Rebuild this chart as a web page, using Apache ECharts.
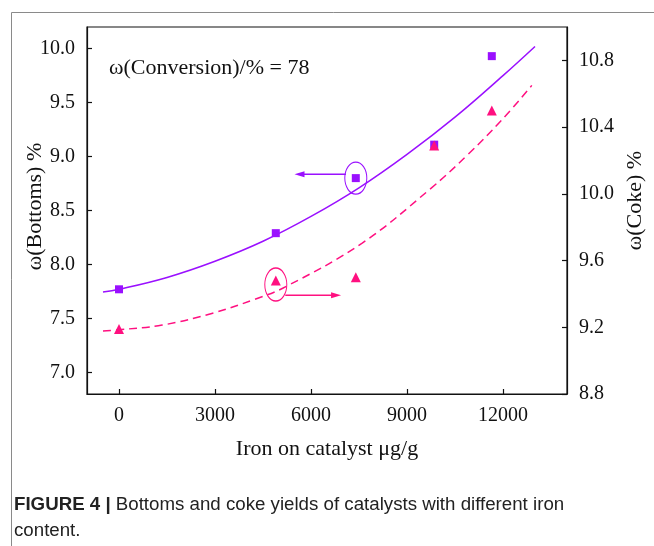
<!DOCTYPE html>
<html>
<head>
<meta charset="utf-8">
<script src="https://cdn.jsdelivr.net/npm/echarts@6/dist/echarts.min.js"></script>
<style>
  html, body { margin: 0; padding: 0; background: #fff; }
  #chart { width: 654px; height: 546px; }
</style>
</head>
<body>
<div id="chart"></div>
<script>
// measured points (iron on catalyst, μg/g)
var ironFe = [0, 4900, 7400, 9850, 11650];
var bottomsPct = [7.77, 8.29, 8.80, 9.11, 9.93];
var cokePct = [9.19, 9.48, 9.50, 10.29, 10.50];

// fitted curves
var bottomsFitX = [-500, 0, 1500, 3000, 4500, 6000, 7500, 9000, 10500, 12000, 13000];
var bottomsFitY = [7.745, 7.77, 7.88, 8.03, 8.215, 8.445, 8.71, 9.02, 9.365, 9.75, 10.02];
var cokeFitX = [-500, 0, 1350, 2900, 4250, 5230, 7600, 9700, 10900, 11950, 12900];
var cokeFitY = [9.178, 9.185, 9.213, 9.283, 9.368, 9.445, 9.705, 10.025, 10.235, 10.44, 10.65];

// axis ticks
var xTicks = [0, 3000, 6000, 9000, 12000];
var bottomsTicks = [7.0, 7.5, 8.0, 8.5, 9.0, 9.5, 10.0];
var cokeTicks = [8.8, 9.2, 9.6, 10.0, 10.4, 10.8];

var PURPLE = "#9a10ff";
var PINK = "#ff1080";
var SERIF = "'Liberation Serif', 'Times New Roman', serif";

function zip(xs, ys) {
    var out = [];
    for (var i = 0; i < xs.length; i++) out.push([xs[i], ys[i]]);
    return out;
}

var chart = echarts.init(document.getElementById("chart"));

function valueAxis(ticks, fmt) {
    return {
        axisLine: { show: true, onZero: false, lineStyle: { color: "#111", width: 1.2 } },
        axisTick: { show: true, inside: true, length: 5, customValues: ticks, lineStyle: { color: "#111", width: 1.2 } },
        axisLabel: {
            customValues: ticks, color: "#111", fontFamily: SERIF, fontSize: 20, margin: 12,
            formatter: fmt
        },
        splitLine: { show: false },
        nameMoveOverlap: false,
        nameTextStyle: { color: "#111", fontFamily: SERIF, fontSize: 22 }
    };
}

var xAxis = valueAxis(xTicks, function (v) { return String(v); });
xAxis.type = "value";
xAxis.min = -1000;
xAxis.max = 14000;
xAxis.name = "Iron on catalyst μg/g";
xAxis.nameLocation = "middle";
xAxis.nameGap = 44;

var yLeft = valueAxis(bottomsTicks, function (v) { return v.toFixed(1); });
yLeft.type = "value";
yLeft.min = 6.8;
yLeft.max = 10.2;
yLeft.position = "left";
yLeft.name = "ω(Bottoms) %";
yLeft.nameLocation = "middle";
yLeft.nameRotate = 90;
yLeft.nameGap = 41;
yLeft.nameTextStyle.padding = [0, 0, 0, 8];

var yRight = valueAxis(cokeTicks, function (v) { return v.toFixed(1); });
yRight.type = "value";
yRight.min = 8.8;
yRight.max = 11.0;
yRight.position = "right";
yRight.name = "ω(Coke) %";
yRight.nameLocation = "middle";
yRight.nameRotate = 90;
yRight.nameGap = 57;
yRight.nameTextStyle.padding = [0, 0, 0, 20];

// annotation helper: arrow shaft towards an axis
function arrowLine(color, yIdx, from, to) {
    return {
        type: "line", yAxisIndex: yIdx, data: [from, to], showSymbol: false, silent: true,
        lineStyle: { color: color, width: 1.3 }
    };
}

var option = {
    animation: false,
    backgroundColor: "#fff",
    grid: { left: 87, right: 86, top: 27, bottom: 152, show: true, borderColor: "#111", borderWidth: 1.2, backgroundColor: "transparent" },
    xAxis: xAxis,
    yAxis: [yLeft, yRight],
    graphic: [
        // outer figure frame
        { type: "rect", left: 9, top: 10, shape: { width: 700, height: 600 }, style: { fill: "none", stroke: "#8a8a8a", lineWidth: 1 }, silent: true },
        { type: "text", left: 109, top: 57, style: { text: "ω(Conversion)/% = 78", fill: "#111", font: "22px " + SERIF } },
        {
            type: "text", left: 14, top: 492,
            style: {
                text: "{b|FIGURE 4 |} Bottoms and coke yields of catalysts with different iron\ncontent.",
                fill: "#222", font: "18.7px 'Liberation Sans', Arial, sans-serif", lineHeight: 26,
                rich: { b: { fontWeight: "bold", fontSize: 18.7, fontFamily: "'Liberation Sans', Arial, sans-serif", fill: "#222" } }
            }
        }
    ],
    series: [
        {
            name: "bottoms fit", type: "line", yAxisIndex: 0, data: zip(bottomsFitX, bottomsFitY),
            smooth: 0.4, showSymbol: false, silent: true,
            lineStyle: { color: PURPLE, width: 1.5 }
        },
        {
            name: "coke fit", type: "line", yAxisIndex: 1, data: zip(cokeFitX, cokeFitY),
            smooth: 0.4, showSymbol: false, silent: true,
            lineStyle: { color: PINK, width: 1.5, type: [8, 5] }
        },
        {
            name: "Bottoms", type: "scatter", yAxisIndex: 0, data: zip(ironFe, bottomsPct),
            symbol: "rect", symbolSize: 8, itemStyle: { color: PURPLE, opacity: 1 }
        },
        {
            name: "Coke", type: "scatter", yAxisIndex: 1, data: zip(ironFe, cokePct),
            symbol: "triangle", symbolSize: 10, itemStyle: { color: PINK, opacity: 1 }
        },
        // left-axis marker: ellipse + arrow
        {
            type: "scatter", yAxisIndex: 0, data: [[ironFe[2], bottomsPct[2]]],
            symbol: "circle", symbolSize: [22, 32], silent: true,
            itemStyle: { color: "rgba(0,0,0,0)", borderColor: PURPLE, borderWidth: 1.2, opacity: 1 }
        },
        arrowLine(PURPLE, 0, [7090, 8.836], [5620, 8.836]),
        {
            type: "scatter", yAxisIndex: 0, data: [[5640, 8.836]], silent: true,
            symbol: "triangle", symbolSize: [6, 10], symbolRotate: 90,
            itemStyle: { color: PURPLE, opacity: 1 }
        },
        // right-axis marker: ellipse + arrow
        {
            type: "scatter", yAxisIndex: 1, data: [[ironFe[1], cokePct[1]]],
            symbol: "circle", symbolSize: [22, 33], symbolOffset: [0, 4], silent: true,
            itemStyle: { color: "rgba(0,0,0,0)", borderColor: PINK, borderWidth: 1.2, opacity: 1 }
        },
        arrowLine(PINK, 1, [5196, 9.392], [6780, 9.392]),
        {
            type: "scatter", yAxisIndex: 1, data: [[6784, 9.392]], silent: true,
            symbol: "triangle", symbolSize: [6, 10], symbolRotate: -90,
            itemStyle: { color: PINK, opacity: 1 }
        }
    ]
};

chart.setOption(option);
</script>
</body>
</html>
